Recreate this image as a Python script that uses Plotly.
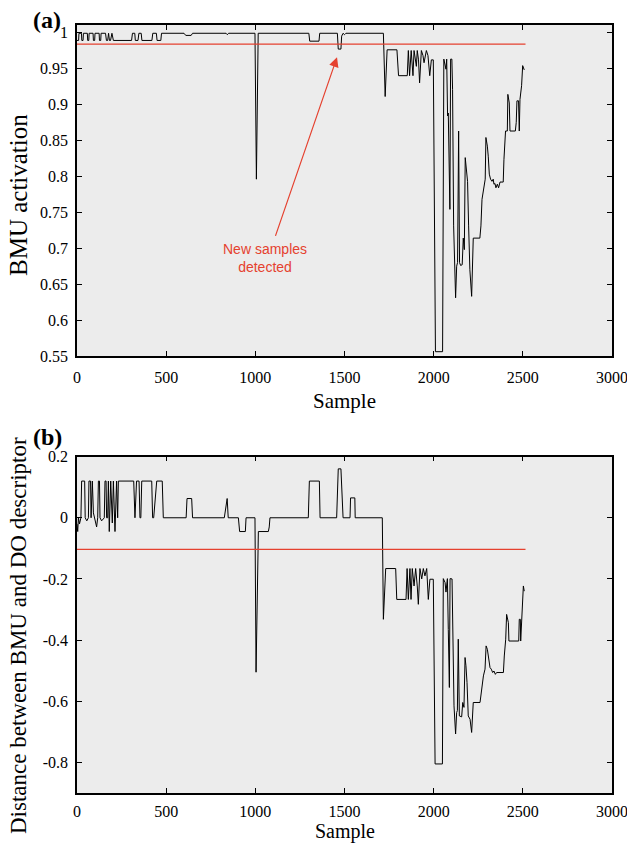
import plotly.graph_objects as go

# ---------------- data ----------------
H, L = 0.999, 0.989
top_x = [0, 9, 11, 25, 27, 34, 36, 58, 60, 66, 68, 90, 92, 99, 101, 124, 126, 133, 135, 160,
         165, 172, 177, 182, 188, 193, 196, 204, 306, 311, 324, 327, 342, 347, 360, 364, 420, 425,
         445, 449, 470, 474, 600, 610, 640, 648, 836, 843, 850, 998, 1006, 1016, 1300, 1305,
         1357, 1361, 1460, 1465, 1480, 1484, 1492, 1500, 1508, 1718, 1728, 1739, 1794, 1803,
         1852, 1858, 1865, 1874, 1884, 1890, 1896, 1903, 1908, 1915, 1921, 1931, 1940, 1946,
         1959, 1968, 1978, 1987, 1998, 2010, 2050, 2057, 2069, 2073, 2078, 2082, 2091, 2095,
         2102, 2106, 2112, 2116, 2123, 2129, 2134, 2140, 2145, 2151, 2160, 2166, 2172, 2177,
         2185, 2190, 2196, 2203, 2213, 2222, 2259, 2265, 2271, 2278, 2284, 2289, 2293, 2301,
         2306, 2312, 2319, 2327, 2334, 2338, 2344, 2349, 2357, 2364, 2372, 2390, 2394, 2403,
         2413, 2416, 2424, 2428, 2458, 2463, 2467, 2476, 2480, 2484, 2493, 2499, 2508]
top_y = [L, L, H, H, L, L, H, H, L, L, H, H, L, L, H, H, L, L, H, H,
         L, L, H, L, L, H, H, L, L, H, H, L, L, H, H, L, L, H,
         H, L, L, H, H, 0.996, 0.996, H, H, 0.997, H, H, 0.796, H, H, 0.988,
         0.988, H, H, 0.977, 0.977, 0.995, 0.999, 0.997, 0.999, H, 0.911, 0.976, 0.976, 0.94,
         0.94, 0.975, 0.94, 0.975, 0.94, 0.975, 0.962, 0.953, 0.975, 0.962, 0.93, 0.975, 0.968, 0.958,
         0.975, 0.968, 0.94, 0.962, 0.962, 0.556, 0.556, 0.963, 0.949, 0.963, 0.884, 0.888, 0.754, 0.963,
         0.963, 0.921, 0.731, 0.684, 0.631, 0.675, 0.68, 0.863, 0.68, 0.676, 0.677, 0.714, 0.698, 0.826,
         0.805, 0.793, 0.731, 0.67, 0.633, 0.714, 0.714, 0.731, 0.768, 0.779, 0.789, 0.796, 0.854, 0.842,
         0.828, 0.803, 0.796, 0.793, 0.796, 0.789, 0.79, 0.784, 0.789, 0.784, 0.792, 0.792, 0.823, 0.863,
         0.863, 0.914, 0.902, 0.863, 0.863, 0.875, 0.905, 0.905, 0.863, 0.907, 0.926, 0.954, 0.948]

bot_x = [0, 4, 8, 14, 22, 26, 43, 46, 55, 64, 67, 76, 79, 82, 86, 92, 101, 110, 116, 120, 126,
         129, 138, 153, 157, 163, 166, 172, 176, 181, 189, 198, 204, 213, 222, 228, 232, 318,
         325, 334, 348, 353, 358, 363, 419, 424, 430, 447, 478, 484, 612, 617, 643, 648, 826,
         838, 842, 848, 905, 912, 944, 948, 998, 1004, 1017, 1073, 1078, 1082, 1297, 1303, 1359,
         1363, 1456, 1465, 1480, 1492, 1531, 1534, 1558, 1560, 1712, 1718, 1731, 1787, 1793, 1845,
         1851, 1858, 1867, 1873, 1880, 1890, 1899, 1908, 1914, 1923, 1933, 1942, 1951, 1961, 1970,
         1979, 1998, 2008, 2049, 2054, 2064, 2069, 2077, 2082, 2088, 2092, 2103, 2114, 2123, 2129,
         2133, 2138, 2144, 2157, 2163, 2170, 2176, 2181, 2187, 2194, 2204, 2213, 2222, 2260, 2265,
         2273, 2279, 2288, 2294, 2301, 2308, 2316, 2323, 2331, 2338, 2346, 2353, 2391, 2396, 2404,
         2409, 2419, 2422, 2477, 2480, 2486, 2488, 2497, 2503, 2508]
bot_y = [-0.02, -0.045, 0.0, -0.02, 0.0, 0.12, 0.12, 0.0, -0.01, 0.0, 0.12, 0.12, 0.0, 0.12, 0.12,
         0.016, -0.01, -0.03, 0.0, 0.12, 0.12, 0.0, -0.01, 0.0, 0.12, 0.12, 0.0, 0.0, 0.12, -0.045,
         0.12, -0.017, 0.12, -0.045, 0.12, 0.0, 0.12, 0.12, 0.0, 0.12, 0.12, 0.0, 0.0, 0.12, 0.12,
         0.0, 0.0, 0.12, 0.12, 0.0, 0.0, 0.063, 0.063, 0.0, 0.0, 0.063, 0.063, 0.0, 0.0, -0.045,
         -0.045, 0.0, 0.0, -0.505, -0.045, -0.045, -0.03, 0.0, 0.0, 0.12, 0.12, 0.0, 0.0, 0.16,
         0.16, 0.0, 0.0, 0.065, 0.065, 0.0, 0.0, -0.332, -0.166, -0.166, -0.267, -0.267, -0.166,
         -0.267, -0.166, -0.267, -0.166, -0.223, -0.166, -0.223, -0.283, -0.166, -0.2, -0.166,
         -0.19, -0.166, -0.267, -0.201, -0.201, -0.805, -0.805, -0.199, -0.212, -0.243, -0.199,
         -0.365, -0.555, -0.199, -0.2, -0.615, -0.707, -0.637, -0.63, -0.397, -0.648, -0.651,
         -0.604, -0.62, -0.457, -0.484, -0.539, -0.648, -0.659, -0.702, -0.604, -0.604, -0.582,
         -0.539, -0.517, -0.495, -0.419, -0.43, -0.463, -0.49, -0.495, -0.506, -0.501, -0.512,
         -0.506, -0.506, -0.452, -0.397, -0.316, -0.343, -0.403, -0.403, -0.332, -0.332, -0.403,
         -0.289, -0.223, -0.24]

thr_x = [0, 2515]
top_thr = [0.984, 0.984]
bot_thr = [-0.103, -0.103]

x_ticks = [0, 500, 1000, 1500, 2000, 2500, 3000]
top_ticks = [0.55, 0.6, 0.65, 0.7, 0.75, 0.8, 0.85, 0.9, 0.95, 1.0]
top_tick_text = ["0.55", "0.6", "0.65", "0.7", "0.75", "0.8", "0.85", "0.9", "0.95", "1"]
bot_ticks = [-0.8, -0.6, -0.4, -0.2, 0.0, 0.2]
bot_tick_text = ["-0.8", "-0.6", "-0.4", "-0.2", "0", "0.2"]

# ---------------- figure ----------------
RED = "#e5412f"
SERIF = "Liberation Serif, Times New Roman, serif"

fig = go.Figure()
fig.add_trace(go.Scatter(x=top_x, y=top_y, mode="lines", line=dict(color="black", width=1),
                         xaxis="x", yaxis="y", showlegend=False))
fig.add_trace(go.Scatter(x=thr_x, y=top_thr, mode="lines", line=dict(color=RED, width=1.2),
                         xaxis="x", yaxis="y", showlegend=False))
fig.add_trace(go.Scatter(x=bot_x, y=bot_y, mode="lines", line=dict(color="black", width=1),
                         xaxis="x2", yaxis="y2", showlegend=False))
fig.add_trace(go.Scatter(x=thr_x, y=bot_thr, mode="lines", line=dict(color=RED, width=1.2),
                         xaxis="x2", yaxis="y2", showlegend=False))

axis_common = dict(showline=True, linecolor="black", linewidth=1.5, mirror="ticks",
                   ticks="inside", ticklen=5, tickcolor="black", tickwidth=1,
                   showgrid=False, zeroline=False, automargin=False,
                   ticklabeloverflow="allow",
                   tickfont=dict(family=SERIF, size=16, color="black"))

fig.update_layout(
    width=627, height=846,
    margin=dict(l=77, r=15, t=25, b=53),
    paper_bgcolor="white", plot_bgcolor="#ececec",
    font=dict(family=SERIF, color="black"),
    xaxis=dict(domain=[0, 1], range=[0, 3000], tickvals=x_ticks, anchor="y",
               ticklabelstandoff=6, **axis_common),
    yaxis=dict(domain=[0.569, 1], range=[0.55, 1.0105], tickvals=top_ticks,
               ticktext=top_tick_text, anchor="x",
               ticklabelstandoff=4, **axis_common),
    xaxis2=dict(domain=[0, 1], range=[0, 3000], tickvals=x_ticks, anchor="y2",
                ticklabelstandoff=3, **axis_common),
    yaxis2=dict(domain=[0, 0.438], range=[-0.9, 0.2], tickvals=bot_ticks,
                ticktext=bot_tick_text, anchor="x2",
                ticklabelstandoff=4, **axis_common),
)

# axis titles
title_font = dict(family=SERIF, size=21, color="black")
fig.add_annotation(text="Sample", xref="paper", yref="paper", x=0.5, y=0.5104,
                   xanchor="center", yanchor="middle", showarrow=False, font=title_font)
fig.add_annotation(text="Sample", xref="paper", yref="paper", x=0.5, y=-0.0505,
                   xanchor="center", yanchor="middle", showarrow=False,
                   font=dict(family=SERIF, size=20, color="black"))
fig.add_annotation(text="BMU activation", xref="paper", yref="paper", x=-0.1103, y=0.7786,
                   xanchor="center", yanchor="middle", showarrow=False, textangle=-90,
                   font=dict(family=SERIF, size=25, color="black"))
fig.add_annotation(text="Distance between BMU and DO descriptor", xref="paper", yref="paper",
                   x=-0.1103, y=0.2057, xanchor="center", yanchor="middle", showarrow=False,
                   textangle=-90, font=dict(family=SERIF, size=23, color="black"))

fig.add_annotation(text="<b>(a)</b>", xref="paper", yref="paper", x=-0.056, y=1.0065,
                   xanchor="center", yanchor="middle", showarrow=False,
                   font=dict(family=SERIF, size=24, color="black"))
fig.add_annotation(text="<b>(b)</b>", xref="paper", yref="paper", x=-0.056, y=0.463,
                   xanchor="center", yanchor="middle", showarrow=False,
                   font=dict(family=SERIF, size=24, color="black"))

fig.add_annotation(text="New samples<br>detected", xref="x", yref="y", x=1054, y=0.687,
                   xanchor="center", yanchor="middle", showarrow=False,
                   font=dict(family="Liberation Sans, Arial, sans-serif", size=14, color=RED))
fig.add_annotation(text="", xref="x", yref="y", x=1458, y=0.9656, axref="x", ayref="y",
                   ax=1110, ay=0.715, showarrow=True, arrowhead=2, arrowsize=1.6,
                   arrowwidth=1.2, arrowcolor=RED)

fig.write_html("out.html")
